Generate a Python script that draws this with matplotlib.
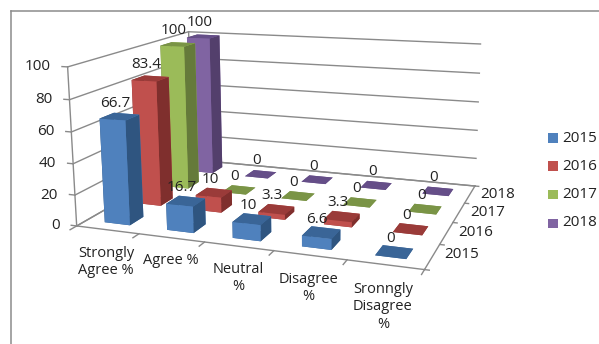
import numpy as np
import matplotlib
matplotlib.use("Agg")
import matplotlib.pyplot as plt
from matplotlib.patches import Rectangle
from matplotlib.lines import Line2D
from mpl_toolkits.mplot3d import Axes3D, proj3d  # noqa: F401

plt.rcParams["font.family"] = ["Open Sans", "DejaVu Sans"]

categories = ["Strongly\nAgree %", "Agree %", "Neutral\n%", "Disagree\n%", "Sronngly\nDisagree\n%"]
years = ["2015", "2016", "2017", "2018"]
values_2015 = [66.7, 16.7, 10, 6.6, 0]
values_2016 = [83.4, 10, 3.3, 3.3, 0]
values_2017 = [100, 0, 0, 0, 0]
values_2018 = [100, 0, 0, 0, 0]
series = [values_2015, values_2016, values_2017, values_2018]
z_ticks = [0, 20, 40, 60, 80, 100]

# front, side and top shades per series
front = ["#4F81BD", "#C0504D", "#9BBB59", "#8064A2"]
side = ["#2F5580", "#7F2F2D", "#657A3A", "#533F6C"]
top = ["#3A6597", "#9A3B39", "#7A9446", "#654E88"]
TEXT = "#222222"

W, H = 599, 344
fig = plt.figure(figsize=(W / 100, H / 100), dpi=100, facecolor="white")
# proj_type "ortho" only disables line clipping here; the camera below supplies the perspective
ax = fig.add_axes([0, 0, 1, 1], projection="3d", computed_zorder=False, proj_type="ortho")
ax.set_axis_off()
ax.patch.set_visible(False)
ax.apply_aspect()

# Camera calibration: world point (category, year, percent) -> pixel position
anchors = [
    ((0, 0, 0), (77, 225)), ((1, 0, 0), (139, 235)), ((2, 0, 0), (205, 243)),
    ((3, 0, 0), (274, 252)), ((4, 0, 0), (345, 260)), ((5, 0, 0), (423, 269)),
    ((5, 1, 0), (442, 244)), ((5, 2, 0), (453, 222)), ((5, 3, 0), (465, 203)),
    ((5, 4, 0), (477, 185)), ((5, 4, 20), (474, 158)), ((5, 4, 40), (476, 131)),
    ((5, 4, 60), (478, 102)), ((5, 4, 80), (479, 74)), ((5, 4, 100), (482, 44)),
    ((0, 0, 100), (68, 66)), ((0, 0, 80), (70, 99)), ((0, 0, 60), (71, 132)),
    ((0, 0, 40), (73, 164)), ((0, 0, 20), (75, 195)), ((0, 4, 100), (188, 32)),
]
inv = ax.transData.inverted()
rows, rhs = [], []
for (X, Y, Z), (px, py) in anchors:
    u, v = inv.transform((px, H - py))
    rows.append([X, Y, Z, 1, 0, 0, 0, 0, -u * X, -u * Y, -u * Z]); rhs.append(u)
    rows.append([0, 0, 0, 0, X, Y, Z, 1, -v * X, -v * Y, -v * Z]); rhs.append(v)
p = np.linalg.lstsq(np.array(rows, float), np.array(rhs, float), rcond=None)[0]
r1, r2, r4 = p[:4], p[4:8], np.r_[p[8:], 1.0]
camera = np.array([r1, r2, r4 - np.array([0, 0, 0, 1.0]), r4])
ax.get_proj = lambda: camera


def label3(x, y, z, s, dx=0, dy=0, **kw):
    """Place a flat label at a projected 3D point, shifted by dx, dy pixels."""
    u, v, _ = proj3d.proj_transform(x, y, z, camera)
    px, py = ax.transData.transform((u, v))
    fig.text((px + dx) / W, (py + dy) / H, s, color=TEXT, fontsize=11, **kw)


GRID = "#8A8A8A"
n_cat, n_year = len(categories), len(years)


def line3(a, b, lw=1.0):
    ax.plot([a[0], b[0]], [a[1], b[1]], [a[2], b[2]], color=GRID, lw=lw, zorder=1, clip_on=False)


for z in z_ticks:
    line3((0, 0, z), (0, n_year, z))
    line3((0, n_year, z), (n_cat, n_year, z))
    line3((0, 0, z), (-0.09, 0, z))
    label3(0, 0, z, str(z), dx=-17, ha="right", va="center")
line3((0, 0, 0), (0, 0, 100))
line3((0, n_year, 0), (0, n_year, 100))
line3((0, 0, 0), (n_cat, 0, 0))
line3((n_cat, 0, 0), (n_cat, n_year, 0))
line3((0, 0, 0), (0, n_year, 0))
line3((0, n_year, 0), (n_cat, n_year, 0))
for c in range(n_cat + 1):
    line3((c, 0, 0), (c, -0.18, 0))
for y in range(n_year + 1):
    line3((n_cat, y, 0), (n_cat + 0.06, y, 0))

BAR_W, BAR_D = 0.41, 0.42
for yi in reversed(range(n_year)):
    for ci in range(n_cat):
        v = series[yi][ci]
        # bottom, top, front, back, left, right faces
        colors = [top[yi], top[yi], front[yi], front[yi], side[yi], side[yi]]
        ax.bar3d(ci + 0.5 - BAR_W / 2, yi + 0.5 - BAR_D / 2, 0, BAR_W, BAR_D, v,
                 color=colors, shade=False, linewidth=0, edgecolor="none",
                 zorder=10 + (n_year - yi) * 10 + ci, clip_on=False)
        label3(ci + 0.5, yi + 0.5, v, f"{v:g}", dx=-4, dy=6, ha="center", va="bottom")

# Axis labels in pixel positions
cat_xy = [(106, 262), (171, 261), (238, 278), (308, 288), (383, 307)]
for name, (x, y) in zip(categories, cat_xy):
    fig.text(x / W, 1 - y / H, name, ha="center", va="center", fontsize=10.5,
             color=TEXT, linespacing=1.2)
year_xy = [(462, 255), (476, 233), (488, 212), (498, 194)]
for name, (x, y) in zip(years, year_xy):
    fig.text(x / W, 1 - y / H, name, ha="center", va="center", fontsize=11, color=TEXT)

# Legend
legend_y = [138, 166, 194, 223]
for name, col, y in zip(years, front, legend_y):
    fig.add_artist(Rectangle((548 / W, 1 - (y + 4.5) / H), 10 / W, 9 / H, transform=fig.transFigure,
                             facecolor=col, edgecolor="none"))
    fig.text(562 / W, 1 - y / H, name, ha="left", va="center", fontsize=11, color=TEXT)

# Chart frame, open to the right and bottom edges
fig.add_artist(Line2D([10.5 / W, 10.5 / W], [0, 1 - 10.5 / H], color="#8C8C8C", lw=1.1))
fig.add_artist(Line2D([10.5 / W, 1], [1 - 10.5 / H, 1 - 10.5 / H], color="#8C8C8C", lw=1.1))

fig.savefig("out.png", dpi=100, facecolor="white")
